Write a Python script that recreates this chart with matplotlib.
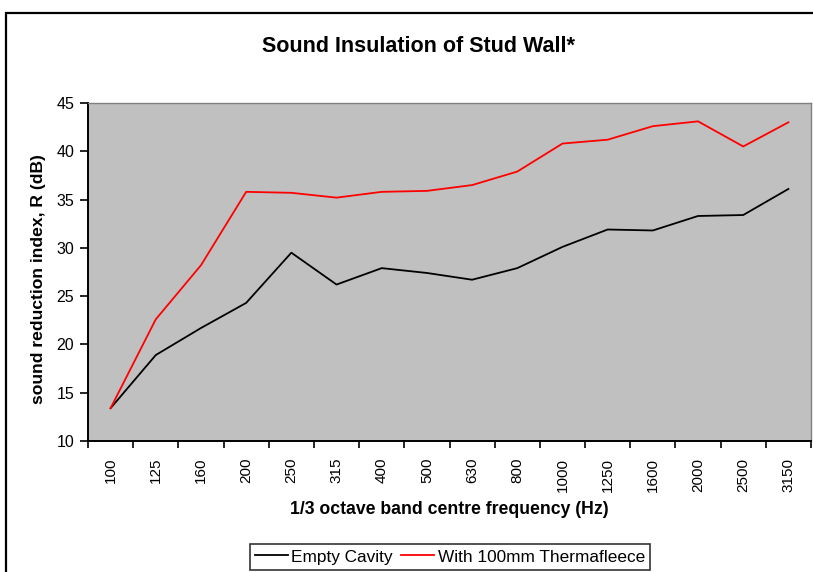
import numpy as np
import matplotlib
matplotlib.use("Agg")
import matplotlib.pyplot as plt
from matplotlib.patches import Rectangle

plt.rcParams["font.family"] = ["Liberation Sans", "DejaVu Sans"]

# 1/3 octave band centre frequencies (Hz)
freqs = ["100", "125", "160", "200", "250", "315", "400", "500",
         "630", "800", "1000", "1250", "1600", "2000", "2500", "3150"]

# sound reduction index R (dB)
empty_cavity = [13.4, 18.9, 21.7, 24.3, 29.5, 26.2, 27.9, 27.4,
                26.7, 27.9, 30.1, 31.9, 31.8, 33.3, 33.4, 36.1]
thermafleece = [13.4, 22.6, 28.2, 35.8, 35.7, 35.2, 35.8, 35.9,
                36.5, 37.9, 40.8, 41.2, 42.6, 43.1, 40.5, 43.0]

W, H = 813, 572
fig = plt.figure(figsize=(W / 100, H / 100), dpi=100)
fig.patch.set_facecolor("white")

# outer chart border (cropped at right/bottom in the source)
fig.patches.append(Rectangle((6 / W, -0.1), 1.2, 1 - 13 / H + 0.1,
                             transform=fig.transFigure, fill=False,
                             edgecolor="black", linewidth=1.6))

ax = fig.add_axes([88 / W, 1 - 441 / H, (811 - 88) / W, (441 - 103) / H])
ax.set_facecolor("#C0C0C0")

x = np.arange(len(freqs))
ax.plot(x, empty_cavity, color="black", linewidth=1.3, label="Empty Cavity")
ax.plot(x, thermafleece, color="#FF0000", linewidth=1.3, label="With 100mm Thermafleece")

ax.set_xlim(-0.5, len(freqs) - 0.5)
ax.set_ylim(10, 45)
ax.set_yticks(range(10, 46, 5))
ax.set_xticks(x, freqs, rotation=90)
ax.set_xticks(np.arange(-0.5, len(freqs), 1), minor=True)
ax.tick_params(axis="x", which="major", length=0, pad=12, labelsize=11)
ax.tick_params(axis="x", which="minor", length=5, width=1.2, direction="out")
ax.tick_params(axis="y", length=6, width=1.2, direction="out", pad=4, labelsize=11.5)

for side in ["left", "bottom"]:
    ax.spines[side].set_color("black")
    ax.spines[side].set_linewidth(1.4)
for side in ["top", "right"]:
    ax.spines[side].set_color("#808080")
    ax.spines[side].set_linewidth(1.0)

ax.set_xlabel("1/3 octave band centre frequency (Hz)", fontsize=12.7, fontweight="bold", va="center")
ax.set_ylabel("sound reduction index, R (dB)", fontsize=12.6, fontweight="bold", va="center")
ax.xaxis.set_label_coords(0.5, (441 - 510) / 338)
ax.yaxis.set_label_coords((38 - 88) / 723, 0.48)

fig.text(418 / W, 1 - 46 / H, "Sound Insulation of Stud Wall*", ha="center", va="center",
         fontsize=15.5, fontweight="bold")

leg = fig.legend(loc="center", bbox_to_anchor=(450 / W, 1 - 557 / H), ncol=2,
                 fontsize=12.4, frameon=True, fancybox=False, handlelength=1.9,
                 handletextpad=0.2, columnspacing=0.5, borderpad=0.3)
leg.get_frame().set_edgecolor("black")
leg.get_frame().set_linewidth(1.2)

fig.savefig("out.png", dpi=100)
